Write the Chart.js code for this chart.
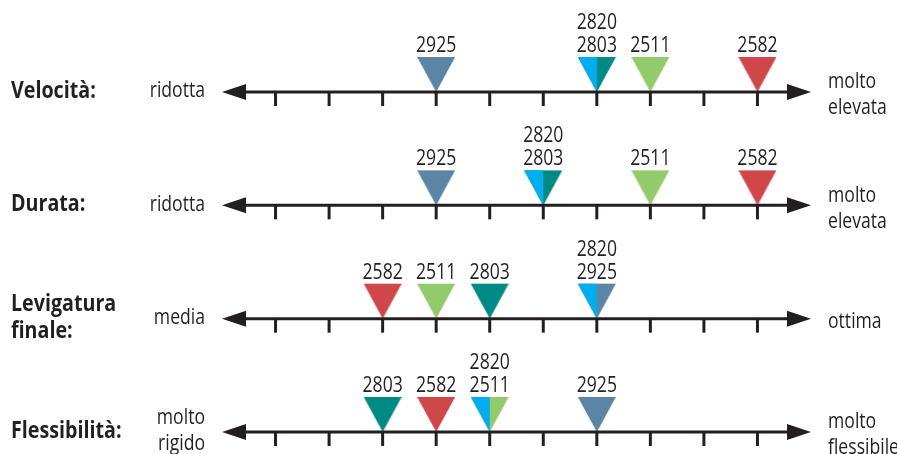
<!DOCTYPE html>
<html>
<head>
<meta charset="utf-8">
<script src="https://cdn.jsdelivr.net/npm/chart.js@4.4.1/dist/chart.umd.min.js"></script>
<style>
  html, body { margin: 0; padding: 0; background: #fff; }
  #wrap { width: 897px; height: 454px; }
</style>
</head>
<body>
<div id="wrap"><canvas id="scaleChart"></canvas></div>
<script>
// rows of the chart
const rowLabels = ["Velocità:", "Durata:", "Levigatura\nfinale:", "Flessibilità:"];
const leftLabels = ["ridotta", "ridotta", "media", "molto\nrigido"];
const rightLabels = ["molto\nelevata", "molto\nelevata", "ottima", "molto\nflessibile"];
const tickValues = [1, 2, 3, 4, 5, 6, 7, 8, 9, 10];

// product position on each row (tick index)
const products = ["2820", "2925", "2803", "2511", "2582"];
const v2820 = [7, 6, 7, 5];
const v2925 = [4, 4, 7, 7];
const v2803 = [7, 6, 5, 3];
const v2511 = [8, 8, 4, 5];
const v2582 = [10, 10, 3, 4];
const colors = ["#00aeef", "#5b84a5", "#008a84", "#93ca6b", "#cf464b"];

const values = [v2820, v2925, v2803, v2511, v2582];
const INK = "#231f20";
const FONT = "'Open Sans', sans-serif";

// triangle image, tip at centre of the canvas
function triangle(color, half) {
  const w = 38, h = 35;
  const c = document.createElement("canvas");
  c.width = w; c.height = h * 2 + 2;
  const g = c.getContext("2d");
  g.fillStyle = color;
  g.beginPath();
  g.moveTo(0, 1);
  g.lineTo(half ? w / 2 : w, 1);
  g.lineTo(w / 2, h + 1);
  g.closePath();
  g.fill();
  return c;
}

const datasets = products.map((p, i) => ({
  label: p,
  data: values[i].map((v, r) => ({ x: v, y: r })),
  pointStyle: triangle(colors[i], p === "2820"),
  pointRadius: 10,
  clip: false,
}));

// condensed text: squeeze horizontally around the anchor
function text(ctx, t, x, y, align, sx) {
  ctx.save();
  ctx.translate(x, y);
  ctx.scale(sx, 1);
  ctx.textAlign = align;
  ctx.fillText(t, 0, 0);
  ctx.restore();
}

function drawLines(ctx, lines, x, yMid, lh, align, sx) {
  const y0 = yMid - (lines.length - 1) * lh / 2;
  lines.forEach((t, k) => text(ctx, t, x, y0 + k * lh, align, sx));
}

const axisPlugin = {
  id: "axes",
  afterDatasetsDraw(chart) {
    const { ctx, scales: { x, y } } = chart;
    ctx.save();
    ctx.fillStyle = INK;
    ctx.strokeStyle = INK;
    rowLabels.forEach((lab, r) => {
      const py = y.getPixelForValue(r);
      const x0 = x.getPixelForValue(x.min);
      const x1 = x.getPixelForValue(x.max);
      // main line
      ctx.lineWidth = 3;
      ctx.beginPath();
      ctx.moveTo(x0 + 20, py);
      ctx.lineTo(x1 - 20, py);
      ctx.stroke();
      // arrow heads
      ctx.beginPath();
      ctx.moveTo(x0, py);
      ctx.lineTo(x0 + 24, py - 8);
      ctx.lineTo(x0 + 24, py + 8);
      ctx.closePath();
      ctx.fill();
      ctx.beginPath();
      ctx.moveTo(x1, py);
      ctx.lineTo(x1 - 24, py - 8);
      ctx.lineTo(x1 - 24, py + 8);
      ctx.closePath();
      ctx.fill();
      // ticks
      tickValues.forEach(t => {
        const px = x.getPixelForValue(t);
        ctx.beginPath();
        ctx.moveTo(px, py);
        ctx.lineTo(px, py + 14);
        ctx.stroke();
      });
      // row texts
      ctx.textBaseline = "middle";
      ctx.font = "bold 24px " + FONT;
      drawLines(ctx, lab.split("\n"), 11, py - 1, 27, "left", 0.82);
      ctx.font = "22px " + FONT;
      drawLines(ctx, leftLabels[r].split("\n"), 205, py - 1, 26, "right", 0.8);
      drawLines(ctx, rightLabels[r].split("\n"), 828, py + 3, 26, "left", 0.8);

      // product labels, stacked where they share a position
      const groups = {};
      products.forEach((p, i) => {
        const v = values[i][r];
        (groups[v] = groups[v] || []).push(p);
      });
      ctx.textBaseline = "alphabetic";
      Object.keys(groups).forEach(v => {
        const px = x.getPixelForValue(Number(v));
        const names = groups[v];
        names.forEach((n, k) => {
          const yy = py - 40 - (names.length - 1 - k) * 23;
          text(ctx, n, px, yy, "center", 0.8);
        });
      });
    });
    ctx.restore();
  }
};

new Chart(document.getElementById("scaleChart"), {
  type: "scatter",
  data: { datasets },
  options: {
    responsive: true,
    maintainAspectRatio: false,
    animation: false,
    events: [],
    layout: { padding: { left: 222, right: 86, top: 92, bottom: 22 } },
    scales: {
      x: { type: "linear", min: 0, max: 11, display: false },
      y: { type: "linear", min: 0, max: 3, reverse: true, display: false },
    },
    plugins: {
      legend: { display: false },
      tooltip: { enabled: false },
    },
  },
  plugins: [axisPlugin],
});
</script>
</body>
</html>
